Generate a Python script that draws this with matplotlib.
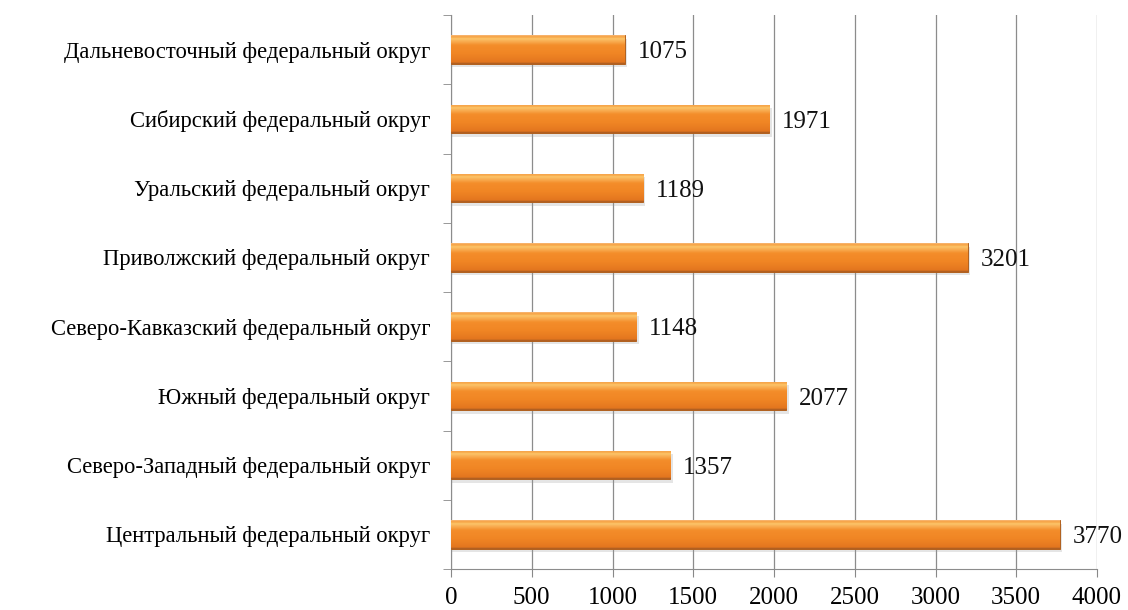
import numpy as np
import matplotlib.pyplot as plt
from matplotlib.ticker import FixedLocator
from matplotlib.colors import LinearSegmentedColormap

districts = ['Центральный федеральный округ', 'Северо-Западный федеральный округ',
             'Южный федеральный округ', 'Северо-Кавказский федеральный округ',
             'Приволжский федеральный округ', 'Уральский федеральный округ',
             'Сибирский федеральный округ', 'Дальневосточный федеральный округ']
values = [3770, 1357, 2077, 1148, 3201, 1189, 1971, 1075]
x_ticks = [0, 500, 1000, 1500, 2000, 2500, 3000, 3500, 4000]

plt.rcParams['font.family'] = ['Liberation Serif', 'DejaVu Serif']

fig = plt.figure(figsize=(11.28, 6.1), dpi=100)
ax = fig.add_axes([451 / 1128, 41 / 610, 646 / 1128, 554 / 610])

y = np.arange(len(districts))
h = 0.41

# soft shadow under the bars
ax.barh(y - 0.05, [v + 15 for v in values], height=h, color='#9a9a9a', alpha=0.25, linewidth=0, zorder=2)
bars = ax.barh(y, values, height=h, color='#f28a22', edgecolor='#b0601e', linewidth=0.7, zorder=3)

# vertical gradient for the glossy look (bottom -> top)
grad = np.linspace(0, 1, 80).reshape(-1, 1)
cmap = LinearSegmentedColormap.from_list('bar', [
    (0.0, '#a65a22'), (0.06, '#e3761f'), (0.35, '#f08524'), (0.65, '#f48d2a'),
    (0.8, '#f9b055'), (0.88, '#fcc56a'), (0.95, '#f6a040'), (1.0, '#f8b878')])
for b in bars:
    x0, y0 = b.get_x(), b.get_y()
    w, hh = b.get_width(), b.get_height()
    im = ax.imshow(grad, cmap=cmap, aspect='auto', extent=[x0, x0 + w, y0, y0 + hh],
                   origin='lower', zorder=4, interpolation='bilinear')
    im.set_clip_path(b)

for yi, v in zip(y, values):
    ax.text(v + 80, yi - 0.04, str(v), va='center', ha='left', fontsize=18, color='#111111', zorder=5)

ax.set_xlim(0, 4000)
ax.set_ylim(-0.5, len(districts) - 0.5)
ax.set_xticks(x_ticks)
ax.set_yticks(y)
ax.set_yticklabels(districts, fontsize=16.3)
ax.yaxis.set_minor_locator(FixedLocator(np.arange(-0.5, len(districts), 1)))
ax.tick_params(axis='y', which='major', length=0, pad=15)
ax.tick_params(axis='y', which='minor', length=6, color='#888888')
ax.tick_params(axis='x', length=6, color='#888888', labelsize=18, pad=7)
ax.grid(axis='x', color='#8c8c8c', linewidth=0.9, zorder=0)
for s in ['top', 'right']:
    ax.spines[s].set_visible(False)
for s in ['left', 'bottom']:
    ax.spines[s].set_color('#8c8c8c')
ax.set_axisbelow(True)

fig.savefig('out.png', dpi=100)
